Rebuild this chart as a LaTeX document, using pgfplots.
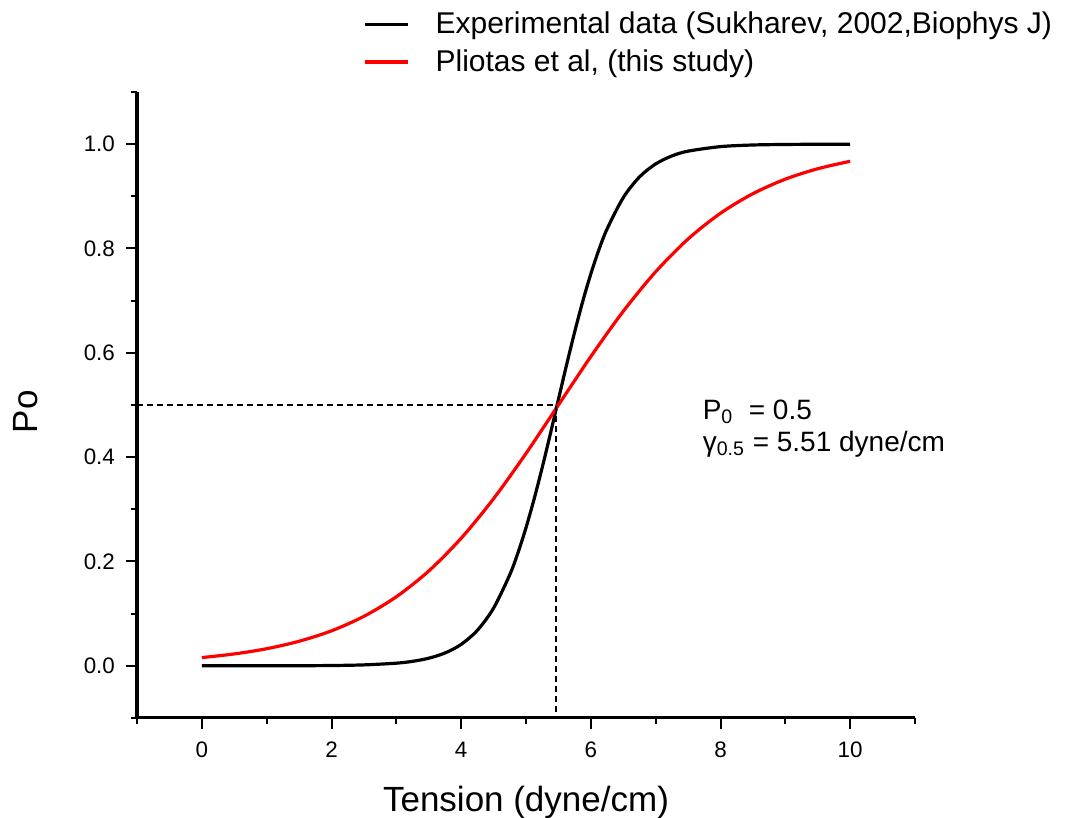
\documentclass[border=0pt]{standalone}
\usepackage{fontspec}
\setmainfont{Liberation Sans}
\usepackage{pgfplots}
\pgfplotsset{compat=1.18}

\begin{document}
\begin{tikzpicture}
\begin{axis}[
  scale only axis,
  width=389pt, height=313pt,
  xmin=-1, xmax=11, ymin=-0.1, ymax=1.1,
  axis x line=bottom, axis y line=left,
  axis line style={-, line width=1.5pt, black},
  xtick={0,2,...,10},
  ytick={0,0.2,0.4,0.6,0.8,1.0},
  minor xtick={-1,1,3,5,7,9,11},
  minor ytick={-0.1,0.1,0.3,0.5,0.7,0.9,1.1},
  tick align=outside,
  major tick length=5.5pt, minor tick length=3pt,
  tick style={line width=1pt, black},
  tick label style={font=\fontsize{11.2}{13}\selectfont},
  /pgf/number format/assume math mode=true,
  yticklabel style={/pgf/number format/fixed, /pgf/number format/fixed zerofill, /pgf/number format/precision=1, xshift=-2pt},
  xticklabel style={yshift=-3pt},
  xlabel={Tension (dyne/cm)},
  ylabel={Po},
  label style={font=\fontsize{17.5}{20}\selectfont},
  xlabel style={at={(axis description cs:0.5,-0.150)}, anchor=base},
  ylabel style={at={(axis description cs:-0.1285,0.489)}, anchor=base, rotate=0},
  legend style={at={(axis description cs:0.2905,1.135)}, anchor=north west, draw=none, fill=none,
    font=\fontsize{15}{18}\selectfont, inner sep=0pt, row sep=2.5pt, legend cell align=left,
    /tikz/every odd column/.append style={column sep=11pt}},
  legend image code/.code={\draw[#1] (0pt,0pt) -- (21.5pt,0pt);},
  clip=false
]
% Sukharev 2002 fit
\addplot[black, line width=1.6pt, smooth] coordinates {
  (0,0.0000) (0.5,0.0000) (1,0.0001) (1.5,0.0002) (2,0.0006) (2.5,0.0018)
  (3,0.0051) (3.25,0.0086) (3.5,0.0146) (3.75,0.0246) (4,0.0411) (4.25,0.0681)
  (4.5,0.1106) (4.75,0.1747) (4.875,0.2163) (5,0.2648) (5.125,0.3197) (5.25,0.3801)
  (5.375,0.4444) (5.5,0.5106) (5.625,0.5765) (5.75,0.6397) (5.875,0.6986) (6,0.7514)
  (6.125,0.7978) (6.25,0.8373) (6.5,0.8975) (6.75,0.9371) (7,0.9621) (7.25,0.9774)
  (7.5,0.9866) (8,0.9953) (8.5,0.9984) (9,0.9994) (9.5,0.9998) (10,0.9999)
};
% this study
\addplot[red, line width=1.6pt, smooth] coordinates {
  (0,0.0158) (0.5,0.0228) (1,0.0328) (1.5,0.0471) (2,0.0671) (2.5,0.0949)
  (3,0.1324) (3.5,0.1818) (4,0.2446) (4.5,0.3204) (5,0.4071) (5.5,0.5000)
  (6,0.5929) (6.5,0.6796) (7,0.7554) (7.5,0.8182) (8,0.8676) (8.5,0.9051)
  (9,0.9329) (9.5,0.9529) (10,0.9672)
};
\legend{{Experimental data (Sukharev, 2002,Biophys J)},{Pliotas et al, (this study)}}
\addplot[black, line width=1pt, dash pattern=on 3pt off 2pt, forget plot] coordinates {
  (-1,0.5) (5.46,0.5) (5.46,-0.1)
};
\node[anchor=base west, font=\fontsize{14}{16}\selectfont, inner sep=0pt] at (axis cs:7.72,0.472) {P\textsubscript{0}\ \ = 0.5};
\node[anchor=base west, font=\fontsize{14}{16}\selectfont, inner sep=0pt] at (axis cs:7.72,0.411) {γ\textsubscript{0.5} = 5.51 dyne/cm};
\coordinate (sw) at (rel axis cs:0,0);
\coordinate (ne) at (rel axis cs:1,1);
\end{axis}
\pgfresetboundingbox
\path ([shift={(-68.5pt,-50pt)}]sw) rectangle ([shift={(75pt,46pt)}]ne);
\end{tikzpicture}
\end{document}
